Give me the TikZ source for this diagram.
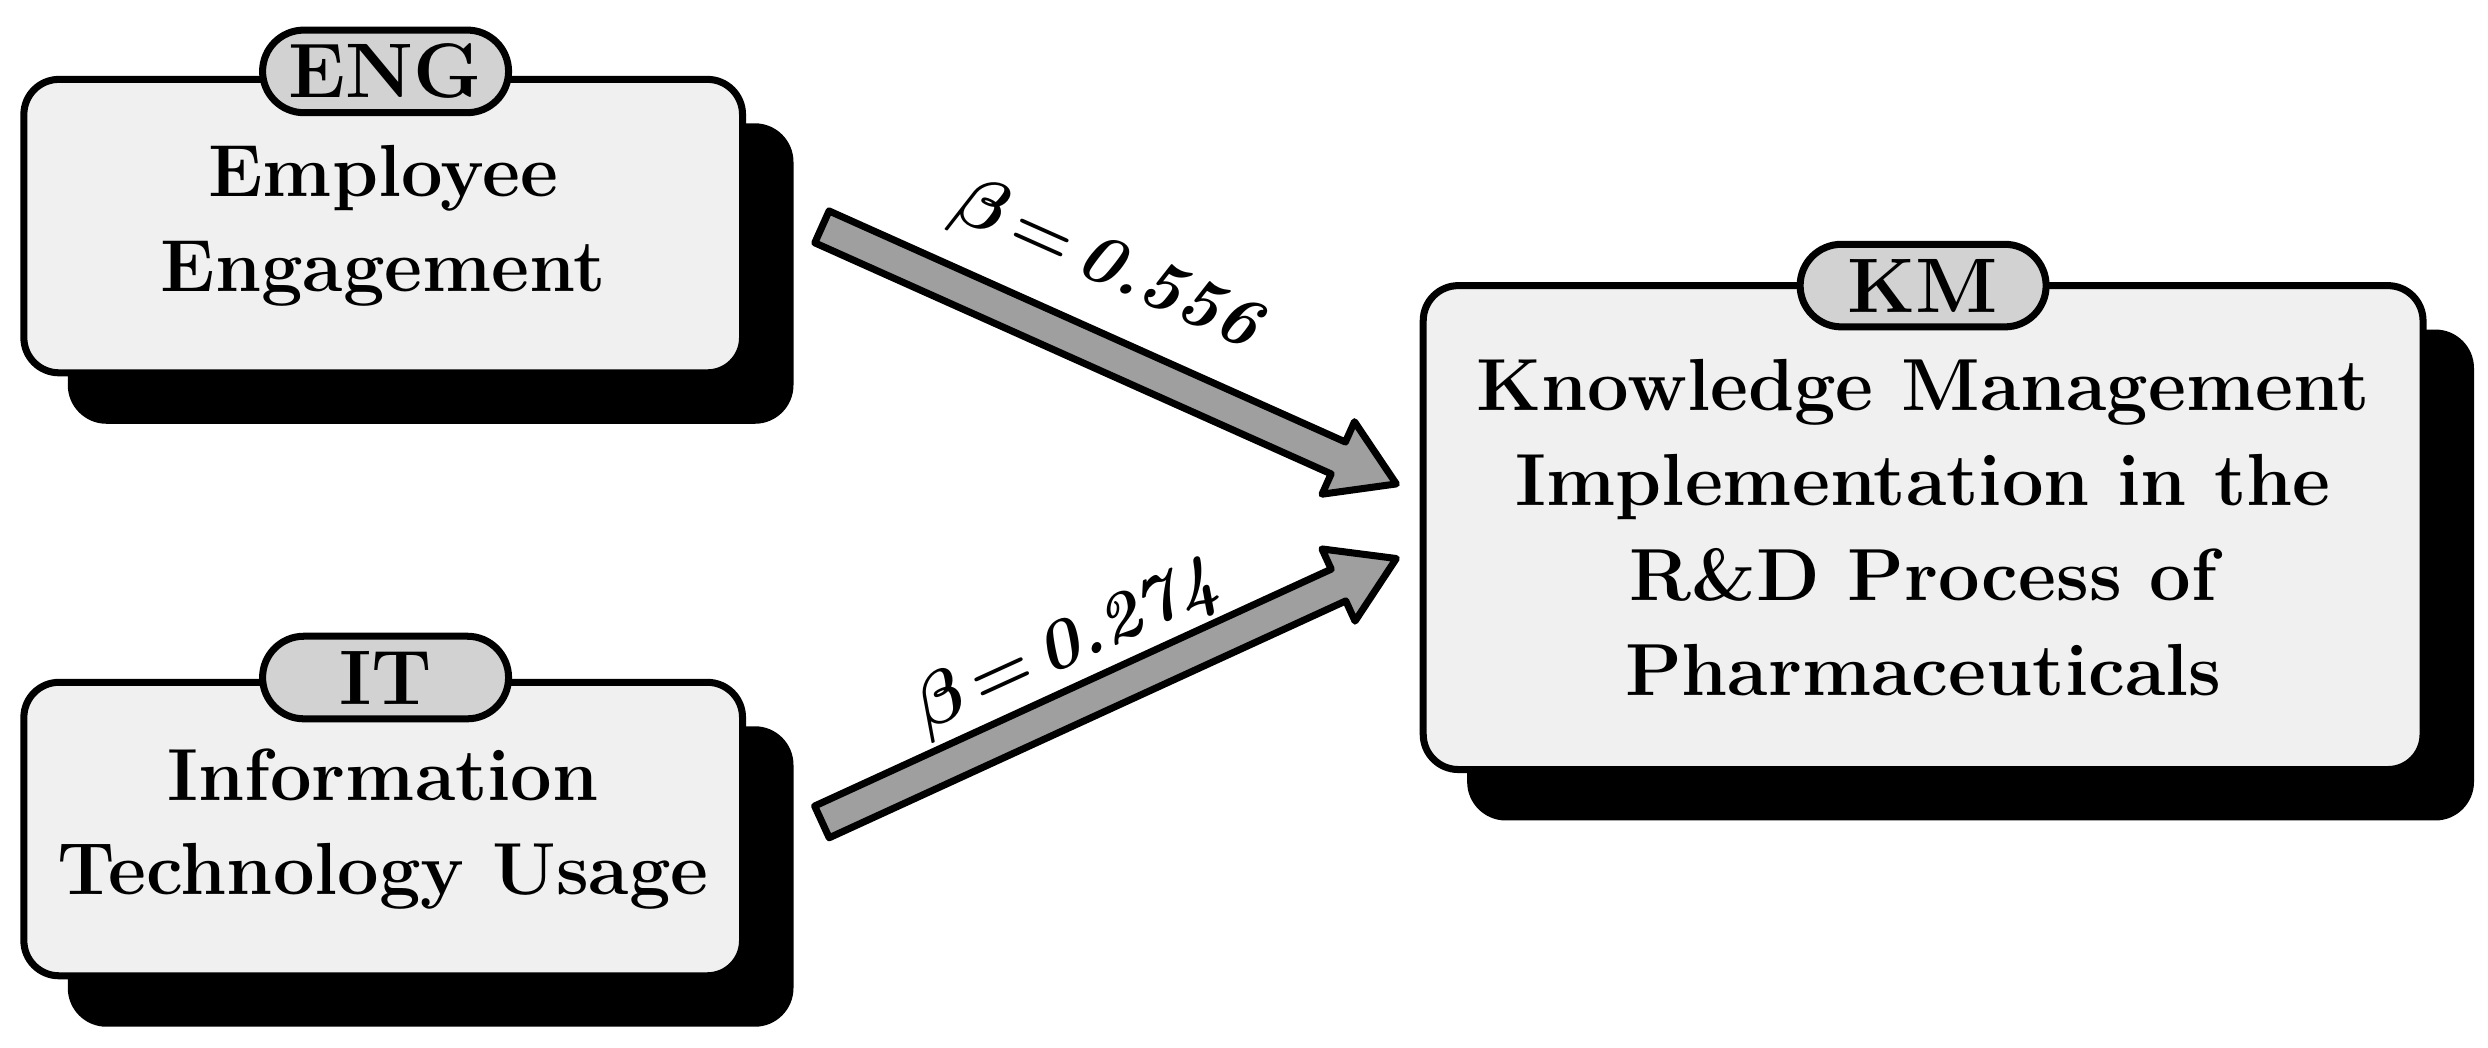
\documentclass[tikz,border=0pt]{standalone}
\usepackage{amsmath,bm}
\usetikzlibrary{shadows,shapes.misc,calc}
\begin{document}
\begin{tikzpicture}[x=0.01587cm,y=0.01587cm,
  box/.style={draw=black,line width=2pt,rounded corners=10pt,fill=gray!12,align=center,
    font=\bfseries\fontsize{21}{27}\selectfont,
    copy shadow={shadow xshift=13.5pt,shadow yshift=-13.5pt,fill=black,draw=black}},
  pill/.style={draw=black,line width=2pt,rounded rectangle,fill=gray!35,minimum width=70pt,minimum height=23.5pt,inner sep=0pt,font=\bfseries\fontsize{22}{27}\selectfont},
  arr/.style={draw=black,line width=2pt,fill=gray!75,line join=round},
  lab/.style={font=\bfseries\fontsize{20}{24}\selectfont}]
\useasboundingbox (0,0) rectangle (1568,660);
\node[box,minimum width=204.5pt,minimum height=83.5pt] (eng) at (241.5,517.5) {Employee\\Engagement};
\node[box,minimum width=204.5pt,minimum height=83.5pt] (it) at (241.5,137.5) {Information\\Technology Usage};
\node[box,minimum width=284.5pt,minimum height=137.7pt] (km) at (1212,327.5) {Knowledge Management\\Implementation in the\\R\&D Process of\\Pharmaceuticals};
\node[pill] (engl) at (243,615) {ENG};
\node[pill] (itl) at (243,233) {IT};
\node[pill] (kml) at (1212,480) {KM};
\coordinate (a1) at (518,517); \coordinate (b1) at (880,355);
\coordinate (a2) at (518,142); \coordinate (b2) at (880,308);
\foreach \a/\b in {a1/b1,a2/b2}{
  \path[arr] let \p1=($(\b)-(\a)$), \n1={atan2(\y1,\x1)}, \n2={veclen(\x1,\y1)} in
    [shift={(\a)},rotate=\n1]
    (0pt,4.97pt) -- ({\n2-18.1pt},4.97pt) -- ({\n2-18.1pt},11.3pt) -- (\n2,0pt)
    -- ({\n2-18.1pt},-11.3pt) -- ({\n2-18.1pt},-4.97pt) -- (0pt,-4.97pt) -- cycle;
}
\node[lab,rotate=-24] (l1) at (698,492) {$\bm{\beta}$\,=\,\textit{0.556}};
\node[lab,rotate=24.5] (l2) at (672,252) {$\bm{\beta}$\,=\,\textit{0.274}};
\end{tikzpicture}
\end{document}
